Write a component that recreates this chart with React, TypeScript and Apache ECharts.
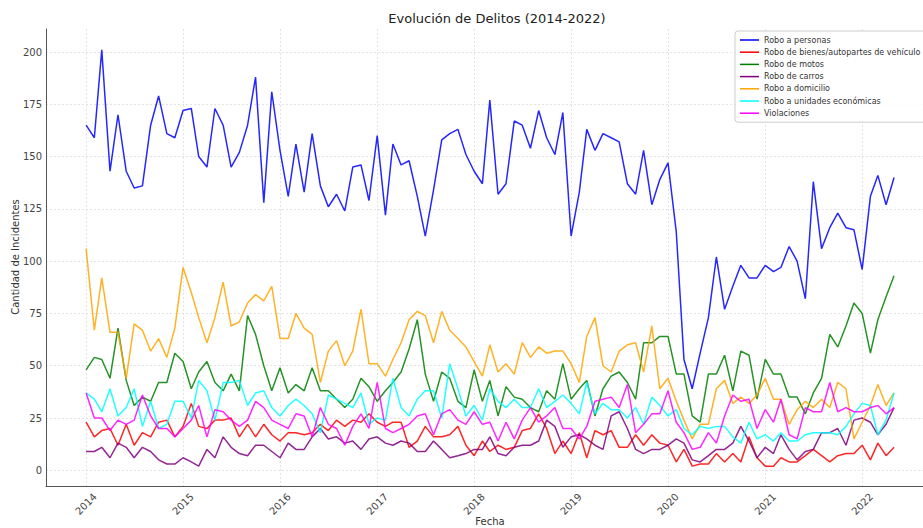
import React, { useEffect, useRef } from "react";
import * as echarts from "echarts";

const seriesNames = [
  "Robo a personas",
  "Robo de bienes/autopartes de vehículo",
  "Robo de motos",
  "Robo de carros",
  "Robo a domicilio",
  "Robo a unidades económicas",
  "Violaciones",
];
const seriesColors = ["#0000ff", "#ff0000", "#008000", "#800080", "#ffa500", "#00ffff", "#ff00ff"];

// monthly values, Jan 2014 .. May 2022
const roboPersonas = [
  165, 159, 201, 143, 170, 143, 135, 136, 165, 179, 161, 159,
  172, 173, 150, 145, 173, 165, 145, 152, 165, 188, 128, 181,
  153, 131, 156, 133, 161, 136, 126, 132, 124, 145, 146, 129,
  160, 122, 156, 146, 148, 131, 112, 134, 158, 161, 163, 151,
  143, 137, 177, 132, 137, 167, 165, 154, 172, 159, 151, 171,
  112, 133, 163, 153, 161, 159, 157, 137, 132, 153, 127, 139,
  147, 114, 53, 39, 56, 73, 102, 77, 88, 98, 92, 92,
  98, 95, 97, 107, 100, 82, 138, 106, 116, 123, 116, 115,
  96, 131, 141, 127, 140,
];
const roboAutopartes = [
  23, 16, 19, 20, 12, 22, 12, 18, 16, 23, 24, 16,
  21, 32, 21, 20, 24, 24, 25, 16, 22, 16, 22, 17,
  14, 18, 18, 17, 18, 22, 19, 24, 21, 24, 23, 27,
  23, 21, 23, 23, 11, 14, 21, 16, 16, 17, 21, 12,
  7, 14, 9, 12, 10, 11, 19, 20, 27, 20, 8, 14,
  8, 18, 6, 19, 17, 19, 11, 11, 17, 12, 17, 13,
  12, 4, 10, 2, 3, 3, 8, 4, 8, 4, 16, 6,
  2, 2, 6, 4, 4, 7, 10, 7, 4, 7, 8, 8,
  12, 5, 13, 7, 11,
];
const roboMotos = [
  48, 54, 53, 44, 68, 43, 31, 35, 33, 42, 42, 56,
  52, 39, 47, 52, 42, 38, 46, 38, 74, 65, 50, 38,
  49, 37, 41, 38, 49, 38, 38, 34, 30, 34, 44, 40,
  33, 38, 42, 47, 58, 72, 46, 33, 47, 44, 33, 30,
  48, 33, 43, 26, 40, 35, 34, 30, 28, 38, 34, 51,
  34, 39, 43, 26, 39, 45, 47, 42, 34, 61, 61, 64,
  64, 46, 46, 26, 23, 46, 46, 55, 38, 57, 55, 34,
  53, 46, 46, 35, 35, 27, 37, 44, 65, 59, 69, 80,
  75, 56, 72, 83, 93,
];
const roboCarros = [
  9, 9, 11, 6, 13, 11, 6, 11, 9, 5, 3, 3,
  6, 4, 2, 10, 6, 16, 11, 8, 7, 12, 12, 9,
  6, 13, 10, 10, 16, 20, 15, 16, 13, 14, 10, 15,
  16, 13, 12, 14, 13, 9, 9, 14, 10, 6, 7, 8,
  10, 10, 16, 8, 7, 11, 12, 12, 14, 24, 21, 11,
  16, 17, 15, 12, 10, 26, 28, 20, 10, 8, 10, 10,
  12, 15, 13, 5, 4, 7, 10, 10, 13, 21, 14, 6,
  11, 8, 17, 10, 5, 9, 10, 18, 18, 20, 12, 24,
  25, 23, 17, 22, 30,
];
const roboDomicilio = [
  106, 67, 92, 66, 66, 44, 70, 67, 57, 63, 54, 68,
  97, 85, 73, 61, 73, 90, 69, 71, 80, 84, 81, 88,
  63, 63, 75, 68, 65, 42, 57, 62, 50, 57, 77, 51,
  51, 45, 53, 61, 72, 76, 74, 61, 76, 67, 63, 59,
  52, 45, 60, 47, 51, 46, 61, 54, 59, 56, 57, 57,
  51, 42, 64, 73, 50, 47, 57, 60, 61, 47, 69, 39,
  44, 33, 24, 15, 22, 22, 39, 43, 32, 35, 32, 36,
  44, 34, 34, 22, 29, 33, 30, 34, 30, 42, 39, 15,
  23, 31, 41, 31, 37,
];
const roboUnidades = [
  37, 34, 28, 39, 26, 30, 39, 21, 33, 20, 22, 33,
  33, 25, 43, 38, 24, 42, 42, 43, 31, 37, 38, 30,
  26, 31, 34, 31, 27, 18, 36, 34, 32, 30, 37, 22,
  25, 24, 44, 30, 26, 34, 38, 38, 25, 51, 39, 26,
  31, 24, 39, 33, 30, 34, 30, 30, 39, 30, 33, 36,
  32, 27, 42, 27, 32, 29, 29, 25, 30, 22, 35, 31,
  26, 29, 20, 17, 21, 20, 21, 21, 16, 13, 23, 15,
  17, 14, 18, 14, 14, 17, 18, 18, 18, 17, 21, 27,
  32, 31, 17, 24, 37,
];
const violaciones = [
  37, 25, 25, 19, 24, 22, 24, 36, 26, 20, 20, 16,
  20, 24, 31, 16, 29, 28, 24, 21, 24, 33, 30, 24,
  22, 20, 27, 26, 16, 30, 22, 20, 12, 21, 27, 20,
  42, 20, 18, 20, 22, 26, 27, 17, 27, 29, 24, 22,
  28, 22, 23, 14, 23, 15, 24, 30, 23, 26, 30, 20,
  20, 15, 21, 33, 34, 35, 30, 41, 18, 22, 27, 27,
  38, 23, 18, 10, 11, 18, 13, 26, 36, 33, 34, 20,
  29, 23, 34, 17, 15, 30, 28, 28, 42, 28, 30, 28,
  28, 30, 31, 27, 30,
];

const allSeries = [roboPersonas, roboAutopartes, roboMotos, roboCarros, roboDomicilio, roboUnidades, violaciones];

const xTickYears = [2014, 2015, 2016, 2017, 2018, 2019, 2020, 2021, 2022];
const yTickValues = [0, 25, 50, 75, 100, 125, 150, 175, 200];

const FONT = "DejaVu Sans";

export default function App() {
  const ref = useRef<HTMLDivElement>(null);

  useEffect(() => {
    if (!ref.current) return;
    const chart = echarts.init(ref.current, null, { renderer: "svg" });
    const monthTime = (i: number) => Date.UTC(2014, i, 1);
    const xTicks = xTickYears.map((y) => Date.UTC(y, 0, 1));

    const option: any = {
      animation: false,
      backgroundColor: "#ffffff",
      textStyle: { fontFamily: FONT },
      grid: { left: 46, right: 0, top: 29, bottom: 42 },
      legend: {
        orient: "vertical",
        left: 735,
        top: 31,
        padding: [4, 5],
        itemWidth: 19,
        itemHeight: 10,
        itemGap: 2.2,
        icon: "path://M0,0H20V1.6H0Z",
        backgroundColor: "rgba(255,255,255,0.85)",
        borderColor: "#cccccc",
        borderWidth: 1,
        borderRadius: 3,
        textStyle: { fontFamily: FONT, fontSize: 8, color: "#333", lineHeight: 10 },
        data: seriesNames.map((n) => ({ name: n })),
      },
      xAxis: {
        type: "value",
        min: Date.UTC(2013, 7, 3),
        max: Date.UTC(2022, 7, 18),
        axisLine: { show: true, onZero: false, lineStyle: { color: "#555", width: 1 } },
        axisTick: { show: false, customValues: xTicks },
        axisLabel: {
          customValues: xTicks,
          rotate: 45,
          align: "center",
          verticalAlign: "middle",
          margin: 18,
          fontSize: 10,
          color: "#444",
          fontFamily: FONT,
          formatter: (v: number) => String(new Date(v).getUTCFullYear()),
        },
        splitLine: { show: true, lineStyle: { color: "#dcdcdc", type: [2, 2], width: 0.8 } },
      },
      yAxis: {
        type: "value",
        min: -7.5,
        max: 211,
        axisLine: { show: true, onZero: false, lineStyle: { color: "#555", width: 1 } },
        axisTick: { show: false, customValues: yTickValues },
        axisLabel: {
          customValues: yTickValues,
          margin: 4,
          fontSize: 10,
          color: "#444",
          fontFamily: FONT,
        },
        splitLine: { show: true, lineStyle: { color: "#dcdcdc", type: [2, 2], width: 0.8 } },
      },
      graphic: [
        {
          type: "text",
          x: 497,
          y: 18,
          style: {
            text: "Evolución de Delitos (2014-2022)",
            font: `13px "${FONT}"`,
            fill: "#222",
            textAlign: "center",
            textVerticalAlign: "middle",
          },
        },
        {
          type: "text",
          x: 15,
          y: 257,
          rotation: Math.PI / 2,
          style: {
            text: "Cantidad de Incidentes",
            font: `10px "${FONT}"`,
            fill: "#333",
            textAlign: "center",
            textVerticalAlign: "middle",
          },
        },
        {
          type: "text",
          x: 490,
          y: 521,
          style: {
            text: "Fecha",
            font: `10px "${FONT}"`,
            fill: "#333",
            textAlign: "center",
            textVerticalAlign: "middle",
          },
        },
      ],
      series: allSeries.map((vals, si) => ({
        name: seriesNames[si],
        type: "line",
        symbol: "none",
        showSymbol: false,
        color: seriesColors[si],
        lineStyle: { color: seriesColors[si], width: 1.5, opacity: 0.85 },
        data: vals.map((v, i) => [monthTime(i), v]),
      })),
    };
    chart.setOption(option);
    return () => chart.dispose();
  }, []);

  return (
    <div
      ref={ref}
      style={{ position: "fixed", left: 0, top: 0, width: 923, height: 528 }}
    />
  );
}
